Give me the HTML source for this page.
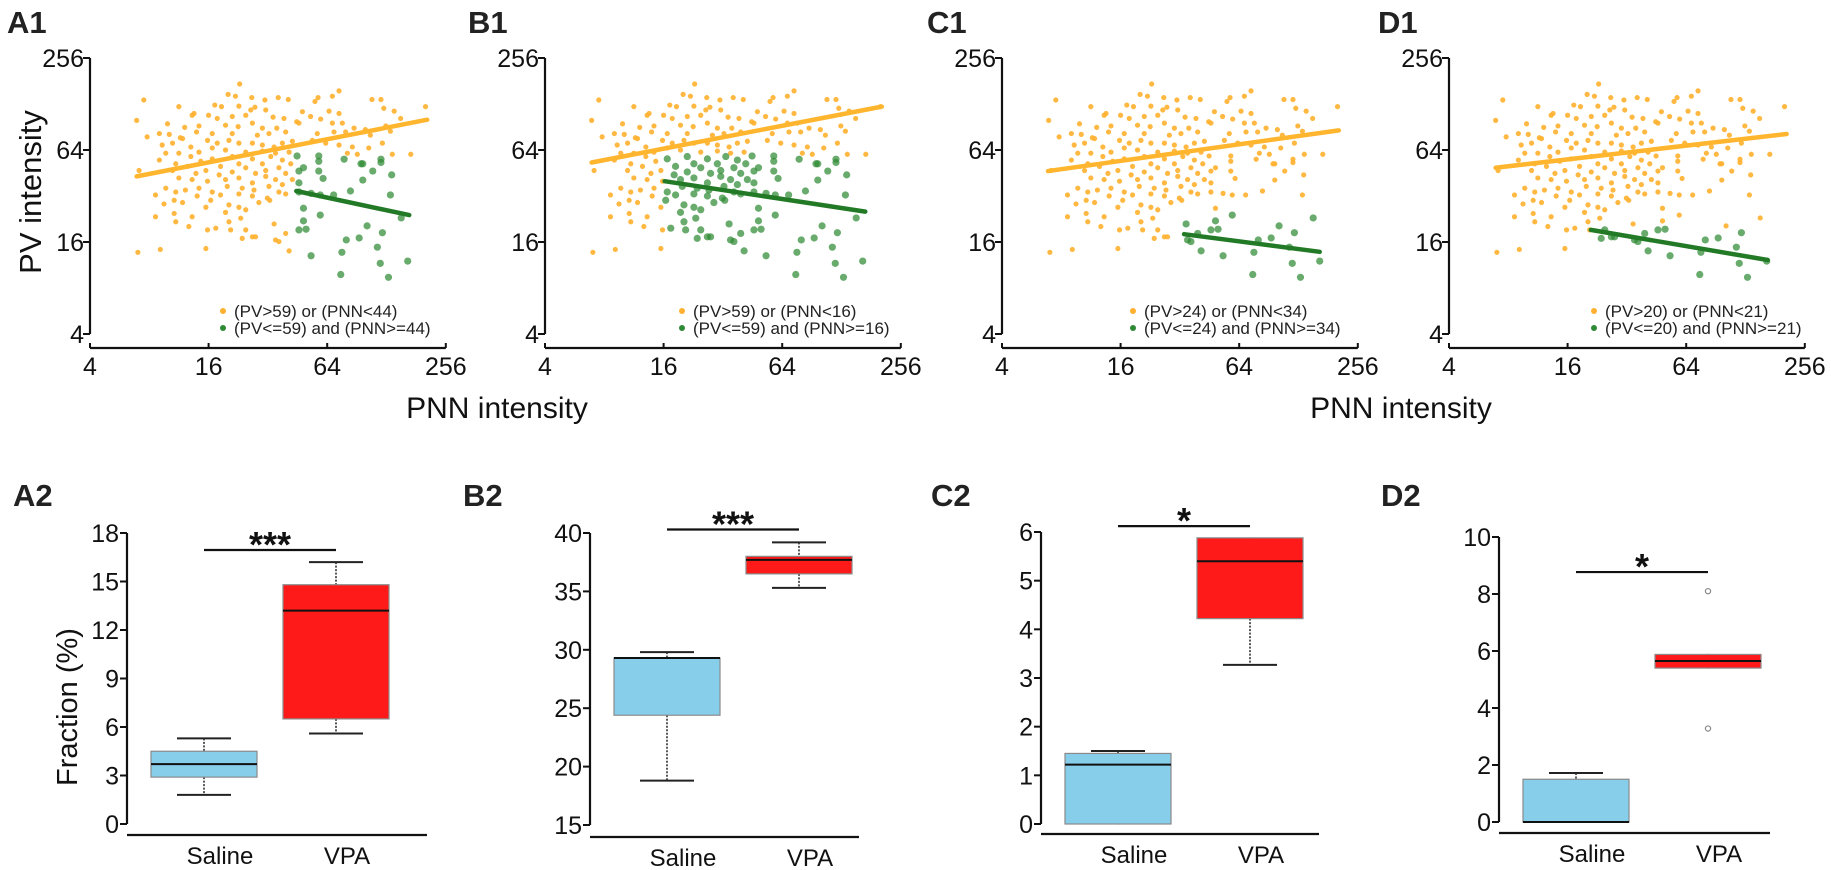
<!DOCTYPE html>
<html><head><meta charset="utf-8"><style>
html,body{margin:0;padding:0;background:#fff;}
svg{display:block;font-family:"Liberation Sans",Arial,sans-serif;}
</style></head><body>
<svg id="fig" width="1831" height="870" viewBox="0 0 1831 870">
<g id="topRow"></g>
<g id="bottomRow"></g>
</svg>
<script>
// ---------- scatter data (PNN intensity, PV intensity) ----------
const points = [
[23,173],[20.1,148],[21.9,144],[26.5,141],[30.9,136],[36.1,141],[40.6,137],[73.5,156],[68,144],[57.5,141],[55.5,133],[108,137],[120,137],[7.5,136],[11.3,123],[17.2,126],[18.6,123],[22.8,124],[27.5,122],[26.2,117],[31.2,117],[47.9,114],[65.4,115],[124,120],[140,115],[202,123],[73.5,111],[13.5,111],
[13.2,108],[16,108],[17.7,103],[21.1,106],[24.7,108],[34,105],[38.6,103],[44.8,98],[52.7,106],[59.3,102],[6.9,100],[9.9,95],[12.1,90],[14.3,92],[19.5,93],[22.6,91],[26.7,96],[30,89],[35.5,89],[46,96],[68,96],[76.4,96],[87.6,89],[100,87],[127,92],[151,103],[134,85],[7.8,78],[9,82],[10.1,81],[11.5,77],[13.9,84],[16.7,82],[21.1,82],[28.3,80],[32.4,82],[39.4,84],[57,82],[69.3,84],[79.4,84],[106,80],
[9.3,69],[10.5,71],[11.8,76],[13,67],[15.8,74],[17.7,71],[20.3,74],[22.8,71],[26.7,71],[30,69],[34.4,67],[37.9,71],[42.6,73],[53.8,74],[62.9,71],[73.5,69],[85.9,67],[104,66],[122,71],[137,60],[170,60],[9.7,61],[11.3,61],[14.3,62],[16.7,66],[19.5,64],[24.7,62],[30,63],[35,61],[41,62],[81,61],[91,60],
[7.1,47],[9,55],[10.9,52],[13,58],[14.6,54],[16.7,56],[18.4,50],[21.1,58],[22.8,52],[26.7,56],[30,52],[33.1,58],[37.9,55],[41.8,52],[10.5,47],[12.5,50],[13.8,45],[15.5,47],[18.1,44],[21.1,46],[24.7,49],[27.7,45],[31.2,47],[36.4,49],[39.4,45],[11.3,42],[13.2,41],[15.8,40],[19.5,41],[22.8,42],[26.7,39],[31.2,43],[35,41],[37.9,38],[42.6,41],
[9.7,36],[10.9,34],[12.2,35],[14.3,36],[16.7,34],[19.9,37],[23.7,36],[27.2,35],[32.4,37],[36.4,34],[8.6,32.5],[10.7,30],[14,32],[16.4,30],[18.4,32.5],[22.8,33],[26.7,32],[31.8,31],[9.5,28.4],[11.8,29],[15.5,27],[20.3,28],[22.8,27],[24.7,26],[28.8,29],[32.7,30],[39.4,33],
[8.6,23.4],[10.7,24.6],[13.2,23.4],[19.5,25],[23.3,22.9],[20.3,21.7],[12.7,20.2],[15.8,19.2],[20.7,19.2],[24.7,19.2],[27.7,17.3],[34.4,21],[35,16.5],[39.4,18.2],[23.7,16.9],[26.7,17.3],[15.5,14.5],[17.4,19.7],[41,14],[36.4,16.1],[7,13.7],[9.1,14.3],[10.9,21.7],
[45,58.5],[58,58.5],[78,55.7],[95,52],[97,52],[120,55.7],[120,53],[46,46.6],[48.5,49],[58,54],[58,46.6],[109,46.6],[136,44],[61,41.7],[97,40.7],[46,39],[84,34.5],[134,32.5],[46,34],[53,33.3],[59,32.5],[69,32.5],[48.5,26.6],[59,24],[48.5,22],[46,19.2],[50,19.4],[102,20.4],[122,18.4],[152,23],[80,16.5],[93,17],[115,14.8],[76,13.7],[53,13],[119,11.6],[164,12],[75,9.8],[131,9.4]
];
const panelTitles = ["A1","B1","C1","D1"];
const pvThresh = [59,59,24,20];
const pnnThresh = [44,16,34,21];
// regression fits: [pnnStart, pvStart, pnnEnd, pvEnd]
const fitOrange = [[6.9,43,206,101],[6.9,53,205,123],[6.85,46.6,205,86],[6.9,49,207,81.5]];
const fitGreen = [[44.6,34.5,167,24],[16.2,40,169,25.3],[33.6,18,164,13.8],[21,19.2,166,12.2]];
const logTicks = [4,16,64,256];

// ---------- box plot data ----------
const boxTitles = ["A2","B2","C2","D2"];
const groupNames = ["Saline","VPA"];
// [min, q1, median, q3, max]
const salineStats = [[1.8,2.9,3.7,4.5,5.3],[18.8,24.4,29.3,29.3,29.8],[0,0,1.22,1.45,1.5],[0,0,0,1.5,1.72]];
const vpaStats = [[5.6,6.5,13.2,14.8,16.2],[35.3,36.5,37.7,38.0,39.2],[3.27,4.22,5.4,5.88,5.88],[5.4,5.4,5.65,5.88,5.88]];
const vpaOutliers = [[],[],[],[8.1,3.28]];
const axisMin = [0,15,0,0];
const axisMax = [18,40,6,10];
const axisStep = [3,5,1,2];
const sigLevel = [16.95,40.3,6.12,8.77];
const sigStars = ["***","***","*","*"];

// ---------- helpers ----------
const NS = "http://www.w3.org/2000/svg";
function mk(tag, attrs, parent){const e=document.createElementNS(NS,tag);for(const k in attrs)e.setAttribute(k,attrs[k]);parent.appendChild(e);return e;}
function txt(parent, s, attrs){const t=mk("text",attrs,parent);t.textContent=s;return t;}

// ---------- scatter panels ----------
const topG = document.getElementById("topRow");
const scAxisX = [90,545,1002,1449];
const scTitleX = [7,468,927,1378];
const legendDX = [133,137,131,145];
const Y_TOP = 58, Y_BOT = 334, X_AX = 348, XPX = 59.3, YPX = 46;
panelTitles.forEach((title,i)=>{
  const ax = scAxisX[i];
  const xS = v => ax + (Math.log2(v)-2)*XPX;
  const yS = v => Y_BOT - (Math.log2(v)-2)*YPX;
  const g = mk("g",{},topG);
  
  
  const tt = txt(g,title,{x:scTitleX[i],y:33,"font-size":31,"font-weight":"bold",fill:"#222"});
  
  
  const ya = mk("line",{x1:ax,x2:ax,y1:Y_TOP,y2:Y_BOT,stroke:"#111","stroke-width":2.2},g);
  
  
  logTicks.forEach(t=>{
    mk("line",{x1:ax-7,x2:ax,y1:yS(t),y2:yS(t),stroke:"#111","stroke-width":2},g);
    const l = txt(g,String(t),{x:ax-6,y:yS(t)+9,"font-size":25,"text-anchor":"end",fill:"#111"});
    
    
  });
  const xa = mk("line",{x1:xS(4),x2:xS(256),y1:X_AX,y2:X_AX,stroke:"#111","stroke-width":2.2},g);
  
  
  logTicks.forEach(t=>{
    mk("line",{x1:xS(t),x2:xS(t),y1:X_AX,y2:X_AX-5,stroke:"#111","stroke-width":2},g);
    const l = txt(g,String(t),{x:xS(t),y:X_AX+27,"font-size":25,"text-anchor":"middle",fill:"#111"});
    
    
  });
  const og = mk("g",{},g), gg = mk("g",{},g);
  points.forEach(p=>{
    const green = p[1]<=pvThresh[i] && p[0]>=pnnThresh[i];
    const c = mk("circle",{cx:xS(p[0]),cy:yS(p[1]),r:green?3.6:2.6,fill:green?"#2f8a35":"#ffb02e","fill-opacity":green?0.72:0.9},green?gg:og);
    
    
  });
  const fo = fitOrange[i], fg = fitGreen[i];
  const lo = mk("line",{x1:xS(fo[0]),y1:yS(fo[1]),x2:xS(fo[2]),y2:yS(fo[3]),stroke:"#ffb52e","stroke-width":4.5,"stroke-linecap":"round"},g);
  
  
  const lg = mk("line",{x1:xS(fg[0]),y1:yS(fg[1]),x2:xS(fg[2]),y2:yS(fg[3]),stroke:"#237a26","stroke-width":4.5,"stroke-linecap":"round"},g);
  
  
  const lx = ax + legendDX[i];
  const le = mk("g",{},g);
  
  
  mk("circle",{cx:lx,cy:311,r:3,fill:"#ffb02e"},le);
  mk("circle",{cx:lx,cy:328,r:3,fill:"#2f8a35"},le);
  const e1 = txt(le,"(PV>"+pvThresh[i]+") or (PNN<"+pnnThresh[i]+")",{x:lx+11,y:317,"font-size":17,fill:"#222"});
  
  
  const e2 = txt(le,"(PV<="+pvThresh[i]+") and (PNN>="+pnnThresh[i]+")",{x:lx+11,y:334,"font-size":17,fill:"#222"});
  
  
});
const pvLab = txt(topG,"PV intensity",{x:0,y:0,"font-size":31,"text-anchor":"middle",fill:"#111",transform:"translate(41,192) rotate(-90)"});


[497,1401].forEach(x=>{
  const t = txt(topG,"PNN intensity",{x:x,y:418,"font-size":30,"text-anchor":"middle",fill:"#111"});
  
  
});

// ---------- box plots ----------
const bottomG = document.getElementById("bottomRow");
const bxAxisX = [127,590,1041,1499];
const bxY0 = [824,825,824,822];
const bxY1 = [533,533,532,537];
const bxBase = [835,837,834,833];
const bxEnd = [427,859,1319,1770];
const bxTitleX = [13,463,931,1381];
boxTitles.forEach((title,i)=>{
  const ax = bxAxisX[i];
  const yS = v => bxY0[i] - (v-axisMin[i])/(axisMax[i]-axisMin[i])*(bxY0[i]-bxY1[i]);
  const g = mk("g",{},bottomG);
  
  
  const tt = txt(g,title,{x:bxTitleX[i],y:506,"font-size":31,"font-weight":"bold",fill:"#222"});
  
  
  const ya = mk("line",{x1:ax,x2:ax,y1:yS(axisMax[i]),y2:yS(axisMin[i]),stroke:"#111","stroke-width":2.2},g);
  
  
  for(let t=axisMin[i]; t<=axisMax[i]+1e-9; t+=axisStep[i]){
    mk("line",{x1:ax-7,x2:ax,y1:yS(t),y2:yS(t),stroke:"#111","stroke-width":2},g);
    const l = txt(g,String(t),{x:ax-8,y:yS(t)+9,"font-size":25,"text-anchor":"end",fill:"#111"});
    
    
  }
  const xa = mk("line",{x1:ax,x2:bxEnd[i],y1:bxBase[i],y2:bxBase[i],stroke:"#111","stroke-width":2.2},g);
  
  
  const centers = [ax+77, ax+209];
  [salineStats[i], vpaStats[i]].forEach((s,k)=>{
    const cx = centers[k];
    const bg = mk("g",{},g);
    
    
    mk("line",{x1:cx,x2:cx,y1:yS(s[4]),y2:yS(s[3]),stroke:"#222","stroke-width":1.5,"stroke-dasharray":"2,1.5"},bg);
    mk("line",{x1:cx,x2:cx,y1:yS(s[1]),y2:yS(s[0]),stroke:"#222","stroke-width":1.5,"stroke-dasharray":"2,1.5"},bg);
    if(s[4]>s[3]) mk("line",{x1:cx-27,x2:cx+27,y1:yS(s[4]),y2:yS(s[4]),stroke:"#222","stroke-width":2},bg);
    if(s[0]<s[1]) mk("line",{x1:cx-27,x2:cx+27,y1:yS(s[0]),y2:yS(s[0]),stroke:"#222","stroke-width":2},bg);
    mk("rect",{x:cx-53,y:yS(s[3]),width:106,height:Math.max(1,yS(s[1])-yS(s[3])),fill:k?"#ff1a1a":"#87ceeb",stroke:"#8a8a8a","stroke-width":1.2},bg);
    mk("line",{x1:cx-53,x2:cx+53,y1:yS(s[2]),y2:yS(s[2]),stroke:"#111","stroke-width":2},bg);
    const gl = txt(g,groupNames[k],{x:cx+(k?11:16),y:bxBase[i]+29,"font-size":24,"text-anchor":"middle",fill:"#111"});
    
    
  });
  vpaOutliers[i].forEach(v=>{
    const o = mk("circle",{cx:centers[1],cy:yS(v),r:2.6,fill:"none",stroke:"#888","stroke-width":1.2},g);
    
    
  });
  const sy = yS(sigLevel[i]);
  const sb = mk("line",{x1:centers[0],x2:centers[1],y1:sy,y2:sy,stroke:"#111","stroke-width":2.2},g);
  
  
  const st = txt(g,sigStars[i],{x:(centers[0]+centers[1])/2,y:sy+7,"font-size":36,"font-weight":"bold","text-anchor":"middle",fill:"#111"});
  
  
});
const fr = txt(bottomG,"Fraction (%)",{x:0,y:0,"font-size":29,"text-anchor":"middle",fill:"#111",transform:"translate(77,707) rotate(-90)"});


</script>
</body></html>
